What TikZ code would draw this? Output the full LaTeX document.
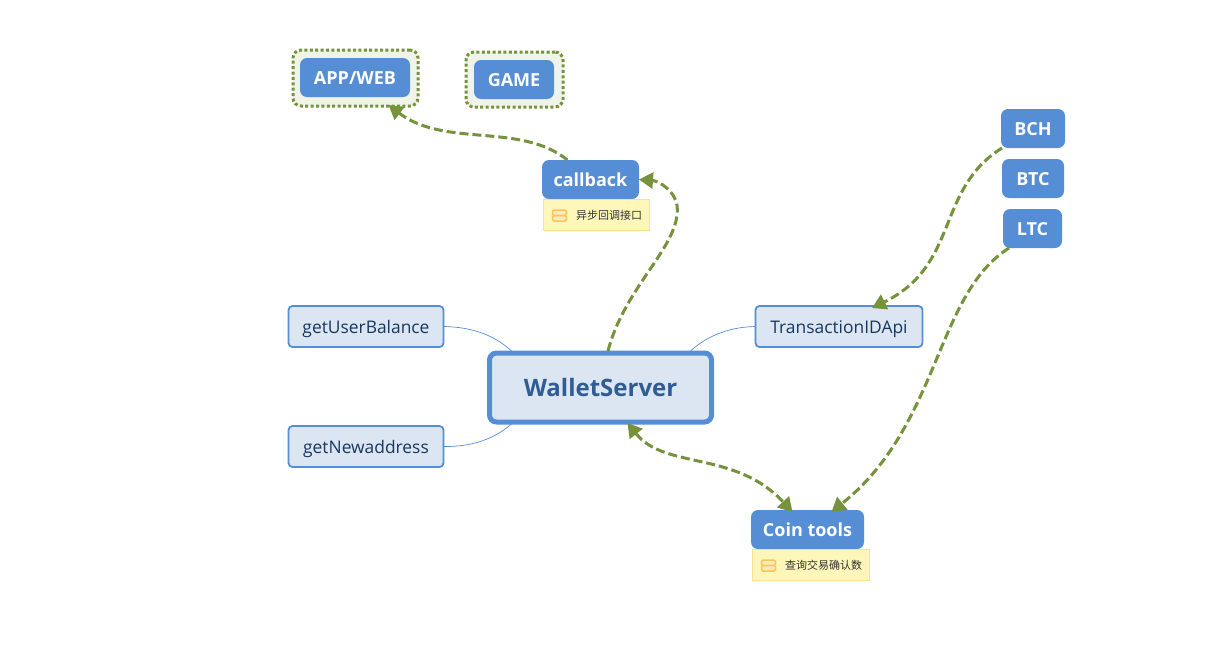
\documentclass[tikz,border=0pt]{standalone}
\usepackage{fontspec}
\setmainfont{Open Sans}
\newfontfamily\cjk{Noto Sans CJK SC}
\usetikzlibrary{arrows.meta,calc}
\definecolor{mapblue}{HTML}{558ED5}
\definecolor{maplight}{HTML}{DCE6F2}
\definecolor{mapdark}{HTML}{2F5C93}
\definecolor{mapink}{HTML}{17375E}
\definecolor{mapgreen}{HTML}{76923C}
\definecolor{halo}{HTML}{F0F4E8}
\definecolor{notefill}{HTML}{FFF6B9}
\definecolor{noteline}{HTML}{FDE28C}
\definecolor{iconline}{HTML}{F9C65B}
\definecolor{iconfill}{HTML}{FFE9B5}
\tikzset{
  x=1pt,y=-1pt,
  box/.style args={#1/#2}{anchor=center,minimum width=#1,minimum height=#2,inner sep=0pt,outer sep=0pt},
  solidbox/.style={box=#1,fill=mapblue,rounded corners=7pt,text=white,text height=14pt,text depth=0pt,font=\fontsize{18}{20}\selectfont\bfseries},
  lightbox/.style={box=#1,draw=mapblue,line width=1.8pt,fill=maplight,rounded corners=4pt,text=mapink,text height=14pt,text depth=0pt,font=\fontsize{17.4}{20}\selectfont},
  mainbox/.style={box=#1,draw=mapblue,line width=5pt,fill=maplight,rounded corners=7pt,text=mapdark,text height=18pt,text depth=0pt,font=\fontsize{24}{30}\selectfont\bfseries},
  halobox/.style={box=#1,draw=mapgreen,fill=halo,line width=3pt,dash pattern=on 3pt off 2.4pt,rounded corners=8pt},
  notebox/.style={box=#1,draw=noteline,fill=notefill,line width=1pt},
  notetext/.style={inner sep=0pt,anchor=west,text=black!80,font=\cjk\fontsize{11}{12}\selectfont},
  iconbar/.style={draw=iconline,fill=iconfill,line width=1.5pt,rounded corners=1.5pt},
  flow/.style={draw=mapgreen,line width=3pt,dash pattern=on 9pt off 4pt,-{Triangle[length=14pt,width=16pt,fill=mapgreen]}},
  bothflow/.style={flow,{Triangle[length=14pt,width=16pt,fill=mapgreen]}-{Triangle[length=14pt,width=16pt,fill=mapgreen]}},
  branch/.style={draw=mapblue,line width=0.7pt}
}
\begin{document}
\begin{tikzpicture}
\useasboundingbox (0,0) rectangle (1221,651);
\fill[white] (0,0) rectangle (1221,651);
% halos
\node[halobox=125pt/56pt] (apphalo) at (355.5,78) {};
\node[halobox=97pt/55pt] (gamehalo) at (514.5,79.5) {};
% blue nodes
\node[solidbox=110pt/39pt] (app) at (355,77.5) {APP/WEB};
\node[solidbox=80pt/39pt] (game) at (514,79.5) {GAME};
\node[solidbox=97pt/39pt] (callback) at (590.5,179.5) {callback};
\node[solidbox=64pt/39pt] (bch) at (1033,128.5) {BCH};
\node[solidbox=62pt/39pt] (btc) at (1033,178.5) {BTC};
\node[solidbox=59pt/39pt] (ltc) at (1032.5,228.5) {LTC};
\node[solidbox=113pt/39pt] (coin) at (807.5,529.5) {Coin tools};
% notes
\node[notebox=106pt/31pt] (note1) at (596.5,215) {};
\node[notetext] (note1text) at (576,215) {异步回调接口};
\node[notebox=117pt/31pt] (note2) at (811,565) {};
\node[notetext] (note2text) at (785,565) {查询交易确认数};
\draw[iconbar] (552.5,210) rectangle (566.5,215.5);
\draw[iconbar] (552.5,215.5) rectangle (566.5,221);
\draw[iconbar] (761.5,560) rectangle (775.5,565.5);
\draw[iconbar] (761.5,565.5) rectangle (775.5,571);
% light nodes
\node[lightbox=155pt/41pt] (balance) at (366,326.5) {getUserBalance};
\node[lightbox=155pt/41pt] (address) at (366,446.5) {getNewaddress};
\node[lightbox=167pt/41pt] (txid) at (839,326.5) {TransactionIDApi};
\node[mainbox=222pt/69pt] (wallet) at (600.5,387.5) {WalletServer};
% anchors of the branches and flows
\coordinate (wnw) at ($(wallet.north west)+(23,-1)$);
\coordinate (wsw) at ($(wallet.south west)+(23,1)$);
\coordinate (wne) at ($(wallet.north east)+(-22,-1)$);
\coordinate (wtop) at ($(wallet.north)+(7.5,-2)$);
\coordinate (wbot) at ($(wallet.south)+(27,1)$);
\coordinate (cbtop) at ($(callback.north)+(-23,0)$);
\coordinate (apphit) at ($(apphalo.south)+(33,-1)$);
\coordinate (bchout) at ($(bch.south west)+(1,0)$);
\coordinate (txidtop) at ($(txid.north)+(33,2)$);
\coordinate (ltcout) at ($(ltc.south west)+(6,0)$);
\coordinate (cointop) at ($(coin.north)+(24,2)$);
\coordinate (cointopb) at ($(coin.north)+(-15,2)$);
% thin branches
\draw[branch] (balance.east) .. controls (475,327) and (497,337) .. (wnw);
\draw[branch] (address.east) .. controls (475,447) and (497,437) .. (wsw);
\draw[branch] (txid.west) .. controls (725,327) and (703,339) .. (wne);
% flows
\draw[flow] (cbtop) .. controls (520,122) and (445,148) .. (apphit);
\draw[flow] (wtop) .. controls (625,285) and (682,245) .. (677,205) .. controls (675,192) and (660,181) .. (callback.east);
\draw[flow] (bchout) .. controls (935,190) and (960,265) .. (txidtop);
\draw[flow] (ltcout) .. controls (935,295) and (940,425) .. (cointop);
\draw[bothflow] (wbot) .. controls (665,470) and (735,450) .. (cointopb);
\end{tikzpicture}
\end{document}
